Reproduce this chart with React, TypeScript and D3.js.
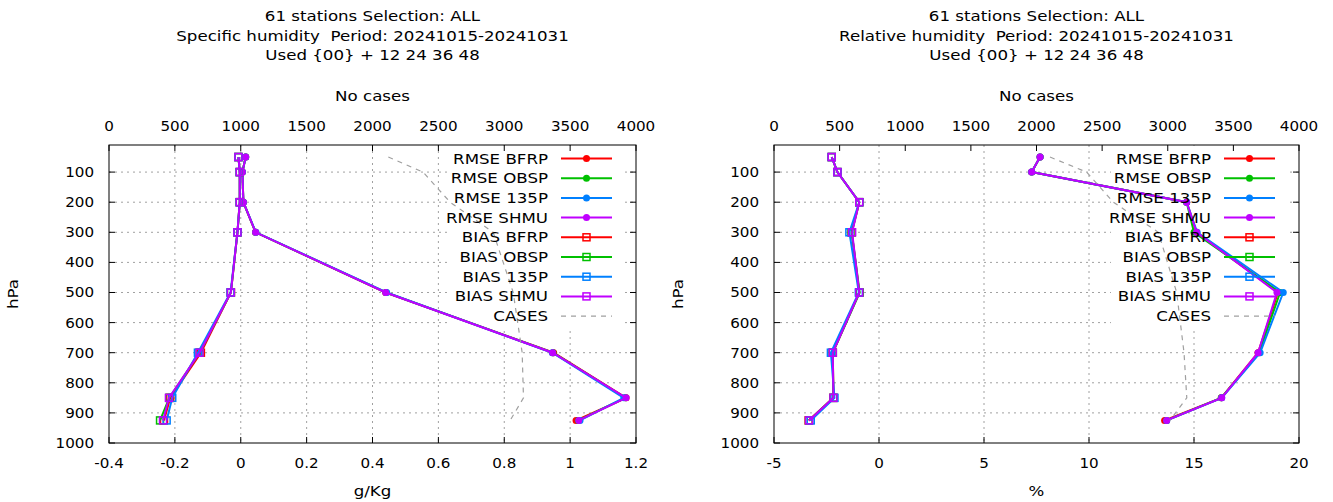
import { useEffect, useRef } from "react";
import * as d3 from "d3";

const levels = [50, 100, 200, 300, 500, 700, 850, 925];
const models = ["BFRP", "OBSP", "135P", "SHMU"];
const colors = ["#ff0000", "#00c000", "#0080ff", "#c000ff"];

// Specific humidity (g/Kg)
const qRmse = [
  [0.015, 0.005, 0.008, 0.045, 0.44, 0.95, 1.17, 1.018],
  [0.015, 0.005, 0.008, 0.045, 0.441, 0.948, 1.168, 1.025],
  [0.015, 0.005, 0.008, 0.046, 0.443, 0.946, 1.163, 1.03],
  [0.015, 0.005, 0.008, 0.045, 0.44, 0.947, 1.17, 1.026],
];
const qBias = [
  [-0.007, -0.003, -0.003, -0.01, -0.03, -0.121, -0.214, -0.233],
  [-0.007, -0.003, -0.003, -0.01, -0.03, -0.125, -0.217, -0.245],
  [-0.007, -0.003, -0.003, -0.01, -0.031, -0.13, -0.208, -0.225],
  [-0.007, -0.003, -0.003, -0.01, -0.03, -0.125, -0.218, -0.236],
];
const qCases = [2120, 2384, 2589, 2916, 3068, 3136, 3146, 3045];

// Relative humidity (%)
const rhRmse = [
  [7.67, 7.27, 14.65, 15.12, 19.0, 18.05, 16.3, 13.6],
  [7.67, 7.27, 14.65, 15.0, 19.1, 18.1, 16.3, 13.7],
  [7.67, 7.27, 14.65, 15.15, 19.25, 18.15, 16.32, 13.7],
  [7.67, 7.27, 14.65, 15.12, 18.95, 18.05, 16.32, 13.7],
];
const rhBias = [
  [-2.25, -1.98, -0.94, -1.3, -0.94, -2.2, -2.17, -3.35],
  [-2.25, -1.98, -0.94, -1.3, -0.92, -2.2, -2.17, -3.33],
  [-2.25, -1.98, -0.94, -1.41, -0.96, -2.29, -2.12, -3.25],
  [-2.25, -1.98, -0.94, -1.28, -0.94, -2.2, -2.17, -3.33],
];
const rhCases = [2103, 2382, 2585, 2928, 3068, 3124, 3145, 3017];

const yTicks = [100, 200, 300, 400, 500, 600, 700, 800, 900, 1000];
const casesTicks = [0, 500, 1000, 1500, 2000, 2500, 3000, 3500, 4000];

const panels = [
  {
    left: 109, right: 636,
    title: ["61 stations Selection: ALL", "Specific humidity  Period: 20241015-20241031", "Used {00} + 12 24 36 48"],
    xDomain: [-0.4, 1.2], xTicks: [-0.4, -0.2, 0, 0.2, 0.4, 0.6, 0.8, 1, 1.2],
    xLabel: "g/Kg", rmse: qRmse, bias: qBias, cases: qCases,
  },
  {
    left: 774, right: 1299,
    title: ["61 stations Selection: ALL", "Relative humidity  Period: 20241015-20241031", "Used {00} + 12 24 36 48"],
    xDomain: [-5, 20], xTicks: [-5, 0, 5, 10, 15, 20],
    xLabel: "%", rmse: rhRmse, bias: rhBias, cases: rhCases,
  },
];

const TOP = 145, BOTTOM = 443;
const FONT = "DejaVu Sans, sans-serif";
const TEXT_SX = 1.19; // letters in the original are rendered wider
const NUM_SX = 1.08;

export default function App() {
  const svgRef = useRef<SVGSVGElement>(null);

  useEffect(() => {
    const svg = d3.select(svgRef.current);
    svg.selectAll("*").remove();
    svg.append("rect").attr("width", 1333).attr("height", 502).attr("fill", "#fff");

    const y = d3.scaleLinear().domain([10, 1000]).range([TOP, BOTTOM]);

    panels.forEach(p => {
      const g = svg.append("g").attr("font-family", FONT).attr("font-size", 14).attr("fill", "#000");
      const x = d3.scaleLinear().domain(p.xDomain).range([p.left, p.right]);
      const x2 = d3.scaleLinear().domain([0, 4000]).range([p.left, p.right]);
      const cx = (p.left + p.right) / 2;

      const label = (tx: number, ty: number, s: string, anchor: string, sx: number, rot = 0) =>
        g.append("text")
          .attr("transform", `translate(${tx},${ty}) rotate(${rot}) scale(${sx},1)`)
          .attr("text-anchor", anchor)
          .style("white-space", "pre")
          .text(s);

      // titles
      p.title.forEach((t, i) => label(cx, 21 + i * 19.5, t, "middle", TEXT_SX));
      label(cx, 101, "No cases", "middle", TEXT_SX);
      label(cx, 496, p.xLabel, "middle", TEXT_SX);
      label(p.left - 91, 294, "hPa", "middle", TEXT_SX, -90);

      // grid
      const grid = g.append("g").attr("stroke", "#a0a0a0").attr("stroke-width", 1).attr("stroke-dasharray", "2,4");
      p.xTicks.slice(1, -1).forEach(v => {
        grid.append("line").attr("x1", x(v)).attr("x2", x(v)).attr("y1", TOP).attr("y2", BOTTOM);
      });
      yTicks.slice(0, -1).forEach(v => {
        grid.append("line").attr("x1", p.left).attr("x2", p.right).attr("y1", y(v)).attr("y2", y(v));
      });
      // key area blanks the grid
      g.append("rect")
        .attr("x", p.right - 188).attr("y", TOP + 1)
        .attr("width", 175).attr("height", 181).attr("fill", "#fff");

      // ticks and labels
      const tk = g.append("g").attr("stroke", "#000").attr("stroke-width", 1);
      p.xTicks.forEach(v => {
        tk.append("line").attr("x1", x(v)).attr("x2", x(v)).attr("y1", BOTTOM).attr("y2", BOTTOM - 6);
        label(x(v), 468, String(v), "middle", NUM_SX);
      });
      casesTicks.forEach(v => {
        tk.append("line").attr("x1", x2(v)).attr("x2", x2(v)).attr("y1", TOP).attr("y2", TOP + 6);
        label(x2(v), 131, String(v), "middle", NUM_SX);
      });
      yTicks.forEach(v => {
        tk.append("line").attr("x1", p.left).attr("x2", p.left + 6).attr("y1", y(v)).attr("y2", y(v));
        tk.append("line").attr("x1", p.right).attr("x2", p.right - 6).attr("y1", y(v)).attr("y2", y(v));
        label(p.left - 15, y(v) + 5, String(v), "end", NUM_SX);
      });

      // data
      const line = d3.line<number>().x(d => x(d)).y((_, i) => y(levels[i]));
      const plot = (vals: number[], color: string, kind: "rmse" | "bias") => {
        g.append("path").attr("d", line(vals)).attr("fill", "none")
          .attr("stroke", color).attr("stroke-width", 2);
        vals.forEach((v, i) => {
          if (kind === "rmse") {
            g.append("circle").attr("cx", x(v)).attr("cy", y(levels[i])).attr("r", 3.5).attr("fill", color);
          } else {
            g.append("rect").attr("x", x(v) - 3.5).attr("y", y(levels[i]) - 3.5)
              .attr("width", 7).attr("height", 7).attr("fill", "none")
              .attr("stroke", color).attr("stroke-width", 1.5);
          }
        });
      };
      p.rmse.forEach((vals, i) => plot(vals, colors[i], "rmse"));
      p.bias.forEach((vals, i) => plot(vals, colors[i], "bias"));
      const caseLine = d3.line<number>().x(d => x2(d)).y((_, i) => y(levels[i]));
      g.append("path").attr("d", caseLine(p.cases)).attr("fill", "none")
        .attr("stroke", "#a0a0a0").attr("stroke-width", 1.2).attr("stroke-dasharray", "5,5");

      // legend
      const labels = [
        ...models.map(m => `RMSE ${m}`),
        ...models.map(m => `BIAS ${m}`),
        "CASES",
      ];
      const tx = p.right - 88, s1 = p.right - 75, s2 = p.right - 24, sm = (s1 + s2) / 2;
      labels.forEach((lab, i) => {
        const ly = 158.5 + i * 19.7;
        label(tx, ly + 5, lab, "end", TEXT_SX);
        if (i < 8) {
          const c = colors[i % 4];
          g.append("line").attr("x1", s1).attr("x2", s2).attr("y1", ly).attr("y2", ly)
            .attr("stroke", c).attr("stroke-width", 2);
          if (i < 4) {
            g.append("circle").attr("cx", sm).attr("cy", ly).attr("r", 3.5).attr("fill", c);
          } else {
            g.append("rect").attr("x", sm - 3.5).attr("y", ly - 3.5).attr("width", 7).attr("height", 7)
              .attr("fill", "none").attr("stroke", c).attr("stroke-width", 1.5);
          }
        } else {
          g.append("line").attr("x1", s1).attr("x2", s2).attr("y1", ly).attr("y2", ly)
            .attr("stroke", "#a0a0a0").attr("stroke-width", 1.2).attr("stroke-dasharray", "5,5");
        }
      });

      // border
      g.append("rect").attr("x", p.left).attr("y", TOP)
        .attr("width", p.right - p.left).attr("height", BOTTOM - TOP)
        .attr("fill", "none").attr("stroke", "#000").attr("stroke-width", 1);
    });
  }, []);

  return (
    <svg ref={svgRef} width={1333} height={502}
      style={{ position: "absolute", left: 0, top: 0, display: "block" }} />
  );
}
